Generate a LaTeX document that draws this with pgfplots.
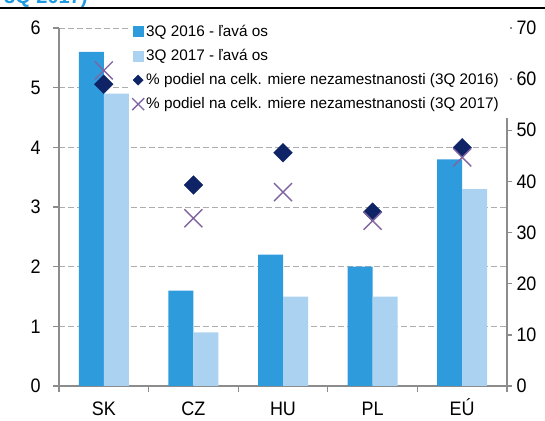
\documentclass[border=0pt]{standalone}
\usepackage{fontspec}
\setmainfont{Liberation Sans}
\newfontfamily\narrow[FakeStretch=0.92]{Liberation Sans}
\usepackage{pgfplots}
\pgfplotsset{compat=1.18}

\definecolor{barA}{HTML}{2E9BDC}
\definecolor{barB}{HTML}{ABD3F1}
\definecolor{navy}{HTML}{0F2466}
\definecolor{lila}{HTML}{8064A2}
\definecolor{axgray}{HTML}{8C8C8C}
\definecolor{gridgray}{HTML}{ADADAD}
\definecolor{titleblue}{HTML}{1E9BE0}

% miera nezamestnanosti (lava os)
\pgfplotstableread{
x a b
0 5.6 4.9
1 1.6 0.9
2 2.2 1.5
3 2.0 1.5
4 3.8 3.3
}\unemp
% podiel na celk. nezamestnanosti (prava os)
\pgfplotstableread{
x p q
0 59.0 61.7
1 39.3 32.8
2 45.6 37.9
3 34.0 32.3
4 46.6 44.7
}\share

\pgfplotsset{
  common/.style={
    scale only axis, width=448bp, height=358bp,
    at={(59bp,35bp)}, anchor=south west,
    xmin=-0.5, xmax=4.5, ymin=0,
    axis line style={axgray, line width=1.3bp},
    tick style={axgray, line width=1.3bp},
    tick align=outside,
    /pgf/number format/assume math mode=true,
    ticklabel style={font=\narrow\fontsize{19.5bp}{21bp}\selectfont, text=black},
  },
  sq/.style={legend image code/.code={\fill[#1] (0bp,-5bp) rectangle (10bp,5bp);}},
  mk/.style={legend image code/.code={\draw[##1] plot coordinates {(5bp,0bp)};}},
}

\begin{document}
\begin{tikzpicture}
\useasboundingbox (0,0) rectangle (545bp,421bp);

\begin{axis}[common,
  ymax=6, ytick={0,...,6},
  axis x line*=bottom, axis y line*=left,
  xtick={-0.5,0.5,...,4.5}, xticklabels={},
  extra x ticks={0,...,4},
  extra x tick labels={SK,CZ,HU,PL,EÚ},
  extra x tick style={major tick length=0pt,
    xticklabel style={font=\narrow\fontsize{19.5bp}{21bp}\selectfont,
      text height=14bp, text depth=0pt, yshift=-12bp}},
  major tick length=6bp,
  yticklabel style={xshift=-9bp},
  ymajorgrids,
  grid style={gridgray, line width=1bp, dash pattern=on 6bp off 3bp},
  ybar=0pt, bar width=25bp,
]
\addplot[fill=barA, draw=none] table[x=x, y=a] {\unemp};
\addplot[fill=barB, draw=none] table[x=x, y=b] {\unemp};
\end{axis}

\begin{axis}[common,
  ymax=70, ytick={0,10,...,70},
  axis y line*=right, axis x line=none,
  major tick length=5bp,
  yticklabel style={xshift=1bp},
  legend cell align=left,
  legend style={at={(0.1585,1.022)}, anchor=north west,
    fill=white, draw=none, inner xsep=2bp, inner ysep=3bp,
    font=\fontsize{15.3bp}{18bp}\selectfont,
    row sep=7.5bp},
]
\addlegendimage{sq=barA}
\addlegendentry{3Q 2016 - ľavá os}
\addlegendimage{sq=barB}
\addlegendentry{3Q 2017 - ľavá os}
\addlegendimage{only marks, mark=square*, mark size=3.6bp,
  mark options={rotate=45, fill=navy, draw=navy}, mk}
\addlegendentry{\% podiel na celk. miere nezamestnanosti (3Q 2016)}
\addlegendimage{only marks, mark=x, mark size=8.5bp,
  mark options={draw=lila, line width=1.3bp}, mk}
\addlegendentry{\% podiel na celk. miere nezamestnanosti (3Q 2017)}

\addplot[forget plot, only marks, mark=square*, mark size=6.6bp,
  mark options={rotate=45, fill=navy, draw=navy}]
  table[x=x, y=p] {\share};
\addplot[forget plot, only marks, mark=x, mark size=12.7bp,
  mark options={draw=lila, line width=1.4bp}]
  table[x=x, y=q] {\share};
\end{axis}

% legenda v originali prekryva hornu cast pravej osi
\fill[white] (499bp,303bp) rectangle (509.5bp,399bp);

% kus nadpisu a linka nad grafom
\node[anchor=base west, inner sep=0pt, text=titleblue,
  font=\bfseries\fontsize{20bp}{22bp}\selectfont] at (4bp,417bp) {3Q 2017)};
\draw[black, line width=1.3bp] (0bp,413bp) -- (545bp,413bp);
\draw[black, line width=2.4bp] (2bp,413bp) -- (15bp,413bp);
\end{tikzpicture}
\end{document}
